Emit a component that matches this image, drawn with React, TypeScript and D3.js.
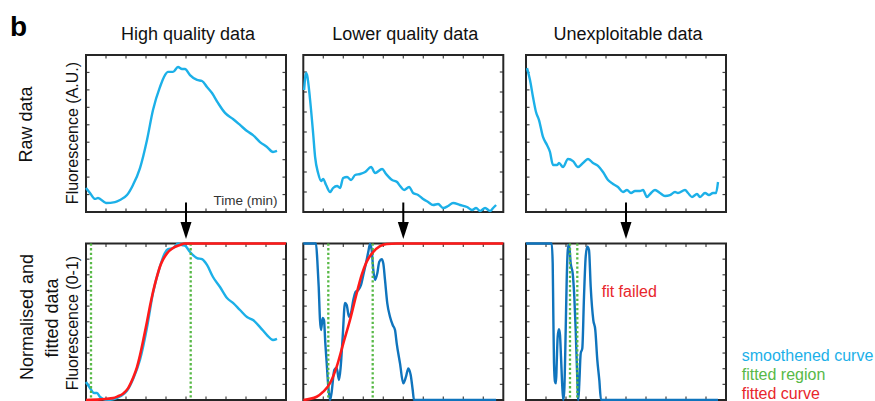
import React from "react";
import * as d3 from "d3";

// ---------- DATA ----------
const panelTitles = ["High quality data", "Lower quality data", "Unexploitable data"];
const xTickValues = [0, 10, 20, 30, 40, 50, 60, 70, 80, 90, 100];
const rawYMax = [900, 785, 900];
const normTickValues = [0, 0.1, 0.2, 0.3, 0.4, 0.5, 0.6, 0.7, 0.8, 0.9, 1];

// Raw (smoothened) fluorescence, time in % of record, A.U.
const raw1X = [0, 2, 4.5, 6, 10, 14.5, 17, 20.5, 23.5, 27, 30.5, 33.5, 37, 39.5, 41, 43.5, 46, 48, 49.5, 52, 55.5, 58, 60.5, 63, 66, 69.5, 73.5, 77, 80.5, 83.5, 87, 90.5, 93.5, 95.5];
const raw1Y = [138, 109, 75, 80, 52, 57, 69, 97, 155, 252, 413, 585, 717, 785, 803, 803, 831, 820, 820, 785, 757, 751, 717, 682, 625, 568, 533, 499, 464, 441, 401, 373, 344, 350];

const raw2X = [0.4, 1.4, 1.9, 3.4, 4.9, 5.9, 7.4, 8.9, 9.9, 11.4, 13.4, 14.9, 16.9, 18.4, 19.9, 21.9, 23.9, 25.9, 28.4, 30.9, 33.9, 35.9, 39.4, 41.4, 44.4, 46.9, 48.4, 50.4, 52.9, 54.9, 57.4, 59.9, 62.4, 64.9, 67.4, 69.9, 72.4, 74.9, 78.4, 81.9, 84.4, 86.4, 88.4, 90.9, 93.4, 94.9, 96.4];
const raw2Y = [610, 695, 685, 560, 395, 275, 195, 155, 165, 135, 100, 120, 130, 120, 170, 175, 160, 185, 190, 200, 225, 195, 215, 190, 160, 150, 130, 110, 125, 95, 85, 65, 50, 35, 40, 20, 30, 45, 35, 25, 10, 20, 5, 20, 5, 20, 35];

const raw3X = [0.5, 2, 3.5, 5, 6.5, 8.5, 10.5, 12, 13.5, 15.5, 16.5, 18.5, 21, 23.5, 26, 28.5, 31, 33.5, 36, 38.5, 41, 43.5, 46, 48.5, 50.5, 52.5, 54.5, 57, 58.5, 60.5, 62, 64.5, 67, 69.5, 72, 74.5, 76, 79.5, 81, 83, 85.5, 87, 89.5, 91.5, 93.5, 95, 96];
const raw3Y = [825, 757, 659, 573, 527, 430, 384, 344, 269, 269, 281, 258, 304, 292, 258, 281, 304, 281, 264, 229, 183, 161, 143, 115, 126, 109, 120, 120, 126, 86, 103, 126, 109, 92, 97, 115, 109, 126, 109, 86, 103, 86, 109, 97, 109, 109, 172];

// Normalised curves (0-1)
const norm1X = [0, 2, 4, 5.5, 7, 10.5, 14, 17, 20.5, 23.5, 27, 30.5, 33.5, 37, 39.5, 41, 43.5, 46, 48, 49.5, 52, 55.5, 58, 60.5, 63.5, 67, 70.5, 73.5, 77, 80.5, 83.5, 87, 90.5, 93.5, 95.5];
const norm1Y = [0.115, 0.077, 0.045, 0.045, 0.02, 0, 0.006, 0.022, 0.058, 0.132, 0.257, 0.463, 0.684, 0.854, 0.941, 0.964, 0.97, 1.0, 0.99, 0.986, 0.946, 0.907, 0.9, 0.863, 0.786, 0.722, 0.652, 0.62, 0.575, 0.53, 0.511, 0.466, 0.415, 0.383, 0.39];

const norm2X = [0, 6.35, 7, 7.7, 8.35, 8.85, 9.7, 10.35, 11, 11.7, 12.5, 13.35, 14.2, 15.5, 16.7, 17.85, 18.7, 19.7, 20.85, 21.7, 22.85, 23.85, 25, 26.2, 27.5, 28.85, 30, 31.35, 32.5, 33.35, 34.2, 35, 35.85, 37, 38, 39.2, 40, 40.85, 42, 43.35, 44.7, 45.85, 46.7, 48.35, 50, 51.35, 52.5, 53.7, 54.7, 55.35, 96.4];
const norm2Y = [1, 1, 0.894, 0.724, 0.511, 0.447, 0.524, 0.511, 0.364, 0.236, 0.085, 0, 0.053, 0.192, 0.204, 0.128, 0.213, 0.405, 0.62, 0.607, 0.532, 0.556, 0.639, 0.692, 0.703, 0.735, 0.799, 0.875, 0.947, 0.997, 0.958, 0.831, 0.767, 0.81, 0.884, 0.9, 0.873, 0.767, 0.618, 0.532, 0.479, 0.447, 0.362, 0.234, 0.106, 0.149, 0.202, 0.16, 0.064, 0, 0];

const norm3X = [0, 12.85, 13.35, 13.65, 14, 14.5, 15, 15.35, 15.85, 16.5, 17, 17.5, 18.15, 18.65, 19.15, 19.85, 20.35, 21.15, 21.65, 22.35, 23.35, 24.15, 24.85, 25.5, 26.15, 26.65, 27.35, 28.15, 29, 29.85, 30.65, 31.5, 32.35, 33.65, 34.65, 35.65, 36.65, 37.5, 96];
const norm3Y = [1, 1, 0.872, 0.556, 0.236, 0.117, 0.106, 0.234, 0.405, 0.452, 0.415, 0.277, 0.085, 0, 0.064, 0.447, 0.767, 0.99, 0.979, 0.873, 0.809, 0.66, 0.447, 0.192, 0, 0.106, 0.298, 0.33, 0.66, 0.916, 0.979, 0.958, 0.724, 0.511, 0.447, 0.256, 0.128, 0, 0];

// Fitted curves
const fit1X = [0, 7, 13.5, 16, 18.5, 21, 23.5, 25.5, 27, 29, 30.5, 32, 33.5, 35.5, 37, 38.5, 40.5, 43.5, 47, 49.5, 100];
const fit1Y = [0, 0.004, 0.012, 0.024, 0.04, 0.074, 0.14, 0.21, 0.285, 0.405, 0.5, 0.6, 0.69, 0.79, 0.853, 0.897, 0.937, 0.971, 0.99, 1, 1];
const fit2X = [0, 6.7, 10, 13.35, 16.7, 20, 23.35, 26.7, 29.2, 31.7, 35, 38.35, 41.7, 46.7, 100];
const fit2Y = [0, 0.021, 0.053, 0.107, 0.213, 0.362, 0.511, 0.682, 0.799, 0.884, 0.947, 0.984, 0.997, 1, 1];

// Fitted regions (start, end)
const region1 = [2.5, 52.35];
const region2 = [12.5, 34.7];
const region3 = [22, 25.65];

const legendLabels = ["smoothened curve", "fitted region", "fitted curve"];

// ---------- STYLE / LAYOUT ----------
const W = 875;
const H = 401;
const FONT = "'Liberation Sans', Arial, Helvetica, sans-serif";
const LIGHT_BLUE = "#1cb0e8";
const DARK_BLUE = "#0f74bd";
const RED = "#ff1a1a";
const GREEN = "#58b947";
const TEXT_RED = "#e8262c";
const AXIS = "#262626";
const panelLefts = [86, 303.3, 526];
const panelW = 200;
const topY0 = 55, topY1 = 212;
const botY0 = 243.5, botY1 = 400;

const zip = (xs: number[], ys: number[]) => xs.map((x, i) => [x, ys[i]] as [number, number]);

function Box({ x0, x1, y0, y1, xs, ys, xt, yt }: any) {
  const tl = 3.5;
  return (
    <g>
      {xt.slice(1, -1).map((t: number, i: number) => (
        <g key={"x" + i} stroke="#444" strokeWidth={1.2}>
          <line x1={xs(t)} x2={xs(t)} y1={y0} y2={y0 + tl} />
          <line x1={xs(t)} x2={xs(t)} y1={y1} y2={y1 - tl} />
        </g>
      ))}
      {yt.filter((t: number) => ys(t) < y1 - 1 && ys(t) > y0 + 1).map((t: number, i: number) => (
        <g key={"y" + i} stroke="#444" strokeWidth={1.2}>
          <line x1={x0} x2={x0 + tl} y1={ys(t)} y2={ys(t)} />
          <line x1={x1} x2={x1 - tl} y1={ys(t)} y2={ys(t)} />
        </g>
      ))}
      <rect x={x0} y={y0} width={x1 - x0} height={y1 - y0} fill="none" stroke={AXIS} strokeWidth={2} />
    </g>
  );
}

export default function App() {
  const raws = [zip(raw1X, raw1Y), zip(raw2X, raw2Y), zip(raw3X, raw3Y)];
  const norms = [zip(norm1X, norm1Y), zip(norm2X, norm2Y), zip(norm3X, norm3Y)];
  const fits = [zip(fit1X, fit1Y), zip(fit2X, fit2Y), null];
  const regions = [region1, region2, region3];
  const normColors = [LIGHT_BLUE, DARK_BLUE, DARK_BLUE];

  return (
    <svg width={W} height={H} style={{ position: "absolute", left: 0, top: 0 }} fontFamily={FONT}>
      <rect width={W} height={H} fill="#fff" />
      <text x={10} y={36} fontSize={28} fontWeight="bold" fill="#000">b</text>

      {/* row labels */}
      <text transform="translate(32,124.5) rotate(-90)" textAnchor="middle" fontSize={18} fill="#111">Raw data</text>
      <text transform="translate(78,133) rotate(-90)" textAnchor="middle" fontSize={16} fill="#111">Fluorescence (A.U.)</text>
      <text transform="translate(33,317) rotate(-90)" textAnchor="middle" fontSize={18} fill="#111">Normalised and</text>
      <text transform="translate(57.5,318) rotate(-90)" textAnchor="middle" fontSize={18} fill="#111">fitted data</text>
      <text transform="translate(78,323) rotate(-90)" textAnchor="middle" fontSize={16} fill="#111">Fluorescence (0-1)</text>

      {panelLefts.map((left, p) => {
        const xs = d3.scaleLinear().domain([0, 100]).range([left, left + panelW]);
        const ysTop = d3.scaleLinear().domain([0, rawYMax[p]]).range([topY1, topY0]);
        const ysBot = d3.scaleLinear().domain([0, 1]).range([botY1, botY0]);
        const yTopTicks = d3.range(0, rawYMax[p] + 1, 100);
        const lineTop = d3.line<[number, number]>().x(d => xs(d[0])).y(d => ysTop(d[1])).curve(d3.curveMonotoneX);
        const lineBot = d3.line<[number, number]>().x(d => xs(d[0])).y(d => ysBot(d[1])).curve(d3.curveMonotoneX);
        const cx = xs(50);
        const fit = fits[p];
        return (
          <g key={p}>
            <text x={cx + 2} y={40} textAnchor="middle" fontSize={18} fill="#111">{panelTitles[p]}</text>
            <Box x0={left} x1={left + panelW} y0={topY0} y1={topY1} xs={xs} ys={ysTop} xt={xTickValues} yt={yTopTicks} />
            <path d={lineTop(raws[p]) || ""} fill="none" stroke={LIGHT_BLUE} strokeWidth={2.4} strokeLinejoin="round" />

            {/* arrow */}
            <line x1={cx} x2={cx} y1={202.5} y2={223} stroke="#000" strokeWidth={2} />
            <path d={`M${cx - 5.5},222 L${cx + 5.5},222 L${cx},239 Z`} fill="#000" />

            <Box x0={left} x1={left + panelW} y0={botY0} y1={botY1} xs={xs} ys={ysBot} xt={xTickValues} yt={normTickValues} />
            <path d={lineBot(norms[p]) || ""} fill="none" stroke={normColors[p]} strokeWidth={2.4} strokeLinejoin="round" />
            {regions[p].map((r, i) => (
              <line key={i} x1={xs(r)} x2={xs(r)} y1={botY0} y2={botY1} stroke={GREEN} strokeWidth={2.3} strokeDasharray="2.3,2.3" />
            ))}
            {fit && <path d={lineBot(fit) || ""} fill="none" stroke={RED} strokeWidth={2.6} strokeLinejoin="round" />}
          </g>
        );
      })}

      <text x={277.5} y={205} textAnchor="end" fontSize={13.5} fill="#333">Time (min)</text>
      <text x={601.7} y={297.3} fontSize={16} fill={TEXT_RED}>fit failed</text>

      <text x={741.7} y={361} fontSize={16} fill={LIGHT_BLUE}>{legendLabels[0]}</text>
      <text x={741.7} y={380} fontSize={16} fill={GREEN}>{legendLabels[1]}</text>
      <text x={741.7} y={399} fontSize={16} fill={TEXT_RED}>{legendLabels[2]}</text>
    </svg>
  );
}
